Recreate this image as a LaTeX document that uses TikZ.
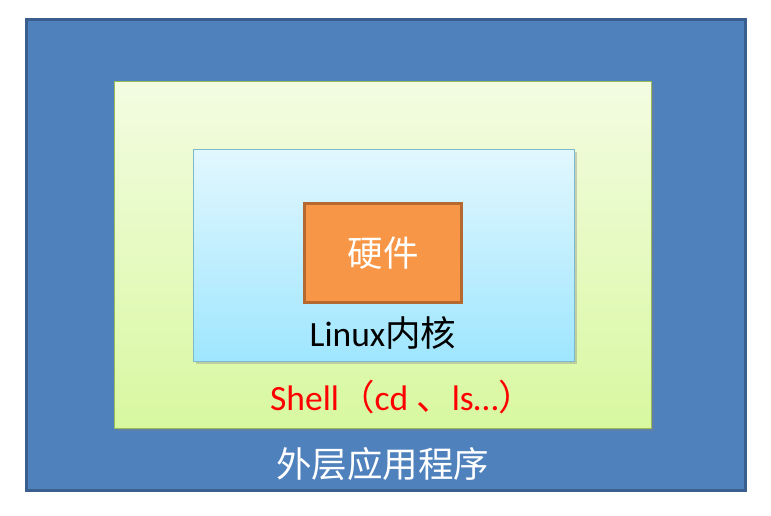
\documentclass[tikz,border=0pt]{standalone}
\usepackage{fontspec}
\setmainfont{Carlito}
\newfontfamily\cjk{Noto Sans CJK SC}
\usepackage{tikz}
\usetikzlibrary{shadows}

\definecolor{appblue}{HTML}{4F81BD}
\definecolor{appedge}{HTML}{3A5F8E}
\definecolor{shelltop}{HTML}{F3FCE2}
\definecolor{shellbot}{HTML}{D8F8A0}
\definecolor{shelledge}{HTML}{9BBB59}
\definecolor{kerneltop}{HTML}{E2F7FE}
\definecolor{kernelbot}{HTML}{9FE6FE}
\definecolor{kerneledge}{HTML}{7DB9CC}
\definecolor{hworange}{HTML}{F79646}
\definecolor{hwedge}{HTML}{B5692F}

\begin{document}
\begin{tikzpicture}[x=1pt, y=-1pt, thick,
  layer/.style = {draw, rectangle, inner sep=0pt},
  shade/.style = {drop shadow={shadow xshift=2.5pt, shadow yshift=-2.5pt, opacity=0.35}},
  label/.style = {inner sep=0pt, font=\fontsize{35.5}{40}\selectfont}]
\useasboundingbox (0,0) rectangle (771,515);
\node[layer, fill=appblue, draw=appedge, line width=3pt,
  minimum width=719pt, minimum height=471pt] (app) at (386,255) {};
\node[layer, shade, top color=shelltop, bottom color=shellbot, draw=shelledge, line width=1pt,
  minimum width=537pt, minimum height=347pt] (shell) at (383.25,254.5) {};
\node[layer, shade, top color=kerneltop, bottom color=kernelbot, draw=kerneledge, line width=1pt,
  minimum width=381pt, minimum height=212pt] (kernel) at (383.5,255) {};
\node[layer, fill=hworange, draw=hwedge, line width=3pt,
  minimum width=157pt, minimum height=99pt] (hw) at (383,253) {};
\node[label, text=white] (hwtext) at (hw.center) {\cjk 硬件};
\node[label, text=black] (kerneltext) at (383,333) {Linux{\cjk 内核}};
\node[label, text=red] (shelltext) at (402,397) {Shell{\cjk （}cd {\cjk 、}ls…{\cjk ）}};
\node[label, text=white] (apptext) at (382.5,464) {\cjk 外层应用程序};
\end{tikzpicture}
\end{document}
